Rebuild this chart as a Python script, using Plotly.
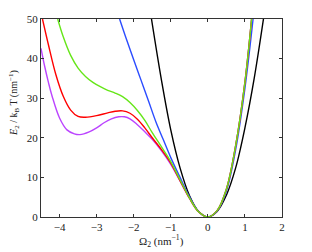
import plotly.graph_objects as go

# Black curve
black_x = [-1.52, -1.25, -1.0, -0.75, -0.5, -0.25, 0, 0.25, 0.5, 0.75, 1.0, 1.25, 1.5]
black_y = [50, 34.5, 22, 12.4, 5.5, 1.4, 0, 1.4, 5.5, 12.4, 22.5, 35, 50]

# Blue curve
blue_x = [-2.38, -2.2, -2.0, -1.8, -1.6, -1.4, -1.2, -1.0, -0.75, -0.5, -0.25, 0, 0.25, 0.5, 0.75, 1.0, 1.22]
blue_y = [50, 45, 39.7, 34.5, 29.3, 24, 19.5, 15, 10, 5.2, 1.4, 0, 1.5, 6.5, 17, 32.5, 50]

# Purple curve
purple_x = [-4.5, -4.4, -4.3, -4.2, -4.0, -3.8, -3.6, -3.45, -3.2, -3.0, -2.8, -2.6, -2.4, -2.25, -2.1, -1.9,
            -1.7, -1.5, -1.25, -1.0, -0.75, -0.5, -0.25, 0, 0.25, 0.5, 0.75, 1.0, 1.18]
purple_y = [42.6, 38, 34, 30.5, 25, 22, 21, 20.8, 21.5, 22.5, 23.8, 24.8, 25.3, 25.3, 24.8, 23.3,
            21.5, 19.6, 16.7, 13.3, 9.1, 4.8, 1.3, 0, 1.6, 7, 18, 34, 50]

# Red curve
red_x = [-4.46, -4.3, -4.1, -3.9, -3.7, -3.5, -3.3, -3.0, -2.7, -2.5, -2.3, -2.1, -1.9, -1.7, -1.5,
         -1.25, -1.0, -0.75, -0.5, -0.25, 0, 0.25, 0.5, 0.75, 1.0, 1.18]
red_y = [50, 43.5, 36, 30.5, 27, 25.4, 25.2, 25.6, 26.3, 26.7, 26.8, 26.2, 24.7, 22.5, 20,
         17, 13.6, 9.2, 4.8, 1.3, 0, 1.6, 7, 18, 34, 50]

# Green curve
green_x = [-4.05, -3.9, -3.7, -3.5, -3.3, -3.1, -2.9, -2.7, -2.5, -2.3, -2.1, -1.9, -1.7, -1.5,
           -1.25, -1.0, -0.75, -0.5, -0.25, 0, 0.25, 0.5, 0.75, 1.0, 1.18]
green_y = [50, 45.5, 40.8, 37.6, 35.5, 34.0, 32.9, 32.0, 31.3, 30.4, 28.9, 26.9, 24.4, 21.3,
           17.7, 14, 9.4, 4.9, 1.3, 0, 1.6, 7, 18, 34, 50]

x_ticks = [-4, -3, -2, -1, 0, 1, 2]
y_ticks = [0, 10, 20, 30, 40, 50]

series = [
    (black_x, black_y, "#000000"),
    (blue_x, blue_y, "#2b4cff"),
    (purple_x, purple_y, "#bb44ff"),
    (red_x, red_y, "#ff0000"),
    (green_x, green_y, "#66e619"),
]

fig = go.Figure()
for xs, ys, c in series:
    fig.add_trace(go.Scatter(x=xs, y=ys, mode="lines",
                             line=dict(color=c, width=1.4, shape="spline", smoothing=1.0),
                             showlegend=False, hoverinfo="skip"))

serif = "Liberation Serif"
axis_common = dict(showgrid=False, zeroline=False, ticks="inside", ticklen=3,
                   tickcolor="#333", linecolor="#333", linewidth=1, mirror="ticks",
                   showline=True, automargin=False,
                   tickfont=dict(family=serif, size=11, color="#222"))

# page body has an 8px margin, so the figure is offset by 8px
fig.update_layout(
    width=312, height=252,
    margin=dict(l=33, r=38, t=11, b=43),
    paper_bgcolor="white", plot_bgcolor="white",
    font=dict(family=serif, size=11, color="#222"),
    xaxis=dict(range=[-4.5, 2], tickvals=x_ticks, **axis_common),
    yaxis=dict(range=[0, 50], tickvals=y_ticks, **axis_common),
    annotations=[
        dict(text="Ω<sub>2</sub> (nm<sup>−1</sup>)", xref="paper", yref="paper",
             x=0.5, y=0, yshift=-24, xanchor="center", yanchor="middle",
             showarrow=False, font=dict(family=serif, size=11, color="#222")),
        dict(text="<i>E</i><sub>2</sub> / k<sub>B</sub> T (nm<sup>−1</sup>)", xref="paper", yref="paper",
             x=0, y=0.576, xshift=-27, xanchor="center", yanchor="middle", textangle=-90,
             showarrow=False, font=dict(family=serif, size=10, color="#222")),
    ],
)

fig.write_html("out.html")
